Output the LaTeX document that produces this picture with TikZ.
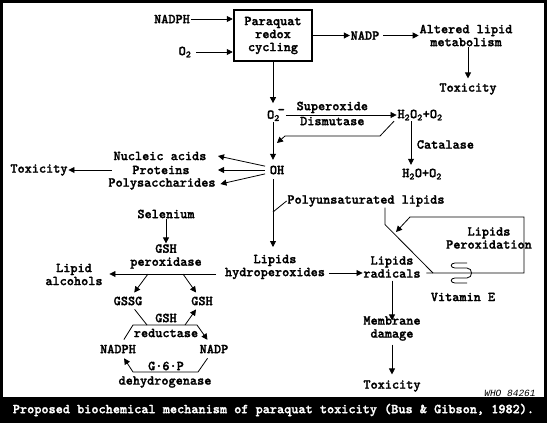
\documentclass[tikz,border=0pt]{standalone}
\usepackage{fontspec}
\setmainfont{Liberation Mono}
\newfontfamily\chemfont{lmmonolt10-bold}[Extension=.otf,FakeBold=1.6]
\usetikzlibrary{arrows.meta}

\begin{document}
\begin{tikzpicture}[x=1pt,y=-1pt,line width=0.8pt,
  lbl/.style={font=\chemfont\fontsize{13.6}{13}\selectfont, inner sep=0.5pt, align=center},
  arr/.style={-{Triangle[length=6pt,width=6pt]}}]
\useasboundingbox (0,0) rectangle (547,423);
\draw[line width=3pt] (1.5,1.5) rectangle (545.5,421.5);
\fill (0,397) rectangle (547,423);
% top row
\node[lbl] (nadph) at (172,19) {NADPH};
\node[lbl] (oxyin) at (185,52) {O\textsubscript{2}};
\node[lbl,draw,line width=2.5pt,minimum width=78pt,minimum height=51pt] (redox) at (273,35.5) {Paraquat\\redox\\cycling};
\node[lbl] (nadp) at (365,35.5) {NADP};
\node[lbl] (altered) at (466,35.5) {Altered lipid\\metabolism};
\node[lbl] (toxtop) at (468,89) {Toxicity};
\draw[arr] (nadph) -- (nadph -| redox.west);
\draw[arr,shorten <=4pt] (oxyin) -- (oxyin -| redox.west);
\draw[arr] (redox.east |- nadp) -- (nadp);
\draw[arr,shorten <=3pt] (nadp) -- (altered);
\draw[arr,shorten >=4pt] (altered.south -| toxtop) -- (toxtop);
% superoxide
\node[lbl] (superox) at (276,115) {O\textsubscript{2}\kern-2pt\raisebox{5pt}{-}};
\node[lbl] (peroxide) at (420,115) {H\textsubscript{2}O\textsubscript{2}+O\textsubscript{2}};
\node[lbl] (hydroxyl) at (277,170) {OH};
\node[lbl] (water) at (422,174) {H\textsubscript{2}O+O\textsubscript{2}};
\draw[arr,shorten >=5pt] (redox.south) -- (redox.south |- superox.north);
\draw[arr] (superox) -- (peroxide) node[lbl,pos=0.42,above=1pt] {Superoxide} node[lbl,pos=0.42,below=1pt] {Dismutase};
\coordinate (retA) at (380,136);
\coordinate (retB) at (285,136);
\coordinate (retC) at (277,143);
\draw[arr] ([xshift=-26pt]peroxide.south) -- (retA) -- (retB) -- (retC);
\draw[arr,shorten >=5pt] (superox.south -| redox.south) -- (hydroxyl.north -| redox.south);
\draw[arr,shorten >=3pt] ([xshift=-9pt]peroxide.south) -- ([xshift=-9pt]peroxide.south |- water.north) node[lbl,midway,right=5pt] {Catalase};
% targets of OH
\node[lbl] (nucleic) at (160,156) {Nucleic acids};
\node[lbl] (protein) at (161,170) {Proteins};
\node[lbl] (polysac) at (162,184) {Polysaccharides};
\node[lbl] (toxleft) at (39,170) {Toxicity};
\coordinate (tipcol) at (218,0);
\draw[arr,shorten <=4pt] ([yshift=3pt]hydroxyl.west) -- (nucleic -| tipcol);
\draw[arr,shorten <=4pt] (hydroxyl.west) -- (protein -| tipcol);
\draw[arr,shorten <=4pt] ([yshift=-3pt]hydroxyl.west) -- ([xshift=4pt]polysac.east);
\draw[arr] ([xshift=-20pt]protein.west) -- (toxleft);
% lipids
\node[lbl] (hydroper) at (275,267) {Lipids\\hydroperoxides};
\node[lbl] (polyun) at (366,201) {Polyunsaturated lipids};
\node[lbl] (radical) at (392,267) {Lipids\\radicals};
\node[lbl] (lipperox) at (489,238) {Lipids\\Peroxidation};
\node[lbl] (vitamin) at (463,297) {Vitamin E};
\node[lbl] (membrane) at (392,328.5) {Membrane\\damage};
\node[lbl] (toxbot) at (392,386) {Toxicity};
\coordinate (hydtop) at (273,247);
\coordinate (branch) at (273,212);
\coordinate (vitjoin) at (433,273);
\draw[arr,shorten <=4pt] (hydroxyl.south -| redox.south) -- (hydtop);
\draw (branch) -- (polyun.west);
\draw ([xshift=19pt]polyun.south) -- ++(0,17) -- (vitjoin);
\coordinate (loopR1) at (524,273);
\coordinate (loopR2) at (524,217);
\coordinate (loopL) at (410,217);
\coordinate (loopTip) at (396,232);
\draw[arr] ([xshift=5pt]radical.east |- vitjoin) -- (loopR1) -- (loopR2) -- (loopL) -- (loopTip);
\draw (467,263) -- (455,263) .. controls +(-5,0) and +(-5,0) .. (455,268) -- (467,268)
  .. controls +(6,0) and +(6,0) .. (467,278) -- (455,278) .. controls +(-5,0) and +(-5,0) .. (455,283) -- (467,283);
\draw[arr,shorten <=3pt] (hydroper.east |- vitjoin) -- (radical.west |- vitjoin);
\draw[arr,shorten <=2pt,shorten >=-5pt] (radical) -- (membrane);
\draw[arr,shorten <=3pt,shorten >=5pt] (membrane) -- (toxbot);
% glutathione cycle
\node[lbl] (alcohol) at (74,274.5) {Lipid\\alcohols};
\node[lbl] (selenium) at (166,214) {Selenium};
\node[lbl] (gshper) at (166,256.5) {GSH\\peroxidase};
\node[lbl] (gssg) at (128,301) {GSSG};
\node[lbl] (gshred) at (202,301) {GSH};
\node[lbl] (nadph2) at (118,349) {NADPH};
\node[lbl] (nadp2) at (214,349) {NADP};
\node[lbl] (gshtxt) at (166,318) {GSH};
\node[lbl] (reduct) at (166,333) {reductase};
\node[lbl] (gsixp) at (166,366) {G·6·P};
\node[lbl] (dehyd) at (165,382) {dehydrogenase};
\coordinate (alcrow) at (0,274);
\draw[arr,shorten >=6pt] ([xshift=-8pt]hydroper.west |- alcrow) -- (alcohol.east |- alcrow);
\draw[arr] (selenium) -- (gshper);
\coordinate (gssgA) at (148,274);
\coordinate (gshA) at (183,274);
\draw[arr,shorten >=4pt] (gssgA) -- (gssg);
\draw[arr,shorten >=4pt] (gshA) -- (gshred);
\coordinate (hexTL) at (133,325);
\coordinate (hexTR) at (197,325);
\coordinate (hexBL) at (133,372);
\coordinate (hexBR) at (198,372);
\coordinate (gssgjoin) at (147,325);
\coordinate (gshjoin) at (185,325);
\draw[arr,shorten <=5pt,shorten >=5pt] (nadph2) -- (hexTL) -- (hexTR) -- (nadp2);
\draw[shorten <=4pt] (gssg) -- (gssgjoin);
\draw[arr,shorten >=4pt] (gshjoin) -- (gshred);
\draw[arr,shorten <=5pt,shorten >=5pt] (nadp2) -- (hexBR) -- (hexBL) -- (nadph2);
% caption
\node[lbl,text=white] (caption) at (273.5,410) {Proposed biochemical mechanism of paraquat toxicity (Bus \& Gibson, 1982).};
\node[font=\fontsize{9.5}{10}\selectfont\itshape, inner sep=1pt] (whonum) at (510,393) {WHO 84261};
\end{tikzpicture}
\end{document}
